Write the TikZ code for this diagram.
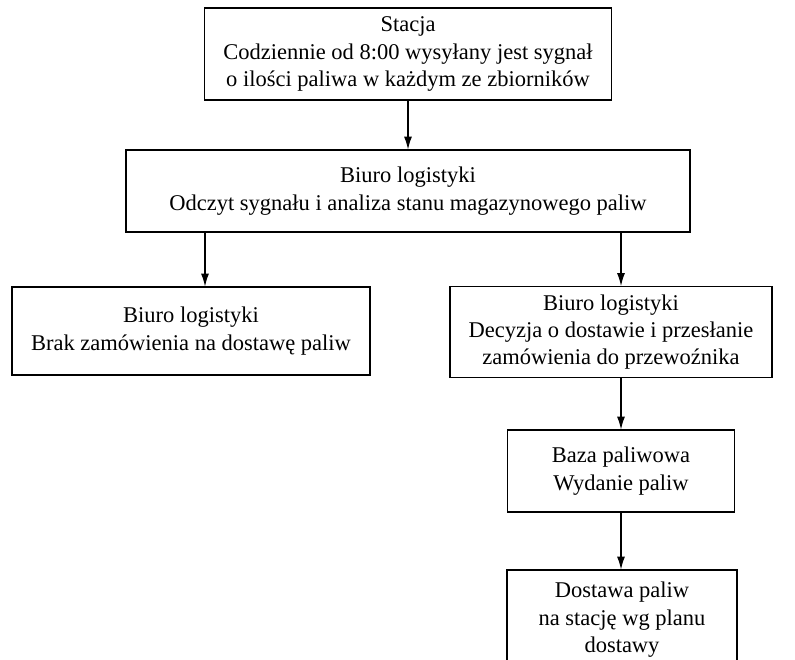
\documentclass[tikz,border=0pt]{standalone}
\usepackage{fontspec}
\setmainfont{Liberation Serif}
\usepackage{tikz}
\usetikzlibrary{arrows.meta}

\tikzset{
  box/.style={draw, line width=0.8pt, align=center, inner sep=0pt,
    font=\fontsize{16}{19.5}\selectfont},
  arr/.style={line width=0.8pt, -{Latex[length=3.2mm,width=2mm]}}
}

\begin{document}
\begin{tikzpicture}
            \useasboundingbox (0,0) rectangle (19.875,-16.5);

            % Stacja
            \node[box, minimum width=10.175cm, minimum height=2.3cm] (st) at (10.2,-1.35)
                {Stacja\\Codziennie od 8:00 wysyłany jest sygnał\\o ilości paliwa w każdym ze zbiorników};

            % Biuro logistyki - odczyt
            \node[box, minimum width=14.1cm, minimum height=2.05cm] (bl) at (10.2,-4.775)
                {Biuro logistyki\\Odczyt sygnału i analiza stanu magazynowego paliw};

            % Two branches
            \node[box, minimum width=8.95cm, minimum height=2.2cm] (brak) at (4.775,-8.275)
                {Biuro logistyki\\Brak zamówienia na dostawę paliw};
            \node[box, minimum width=8.05cm, minimum height=2.275cm] (dec) at (15.275,-8.3)
                {Biuro logistyki\\Decyzja o dostawie i przesłanie\\zamówienia do przewoźnika};

            % Baza and delivery
            \node[box, minimum width=5.675cm, minimum height=2.05cm] (baza) at (15.525,-11.775)
                {Baza paliwowa\\Wydanie paliw};
            \node[box, minimum width=5.75cm, minimum height=2.5cm] (dost) at (15.55,-15.5)
                {Dostawa paliw\\na stację wg planu\\dostawy};

            % Arrows
            \coordinate (c1) at (5.125,0);
            \draw[arr] (st) -- (bl);
            \draw[arr] (bl.south -| c1) -- (brak.north -| c1);
            \draw[arr] (bl.south -| baza.north) -- (dec.north -| baza.north);
            \draw[arr] (dec.south -| baza.north) -- (baza.north);
            \draw[arr] (baza.south) -- (baza.south |- dost.north);
\end{tikzpicture}
\end{document}
